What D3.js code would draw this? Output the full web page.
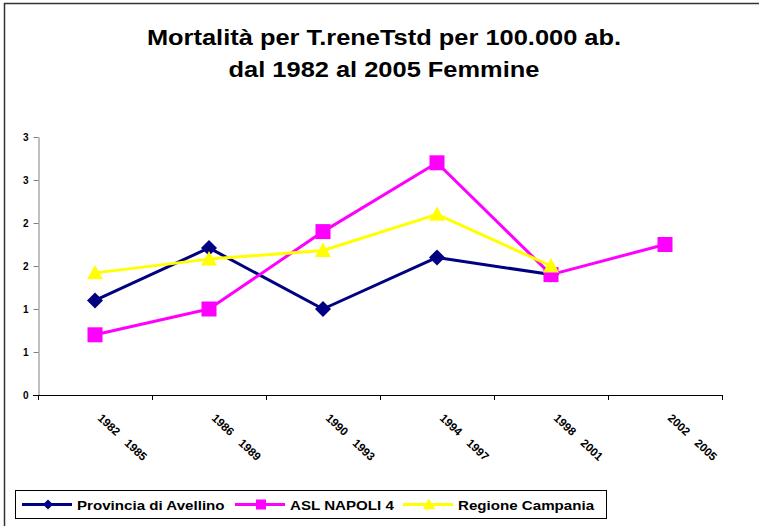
<!DOCTYPE html>
<html>
<head>
<meta charset="utf-8">
<script src="https://cdn.jsdelivr.net/npm/d3@7"></script>
<style>
  body { margin: 0; background: #fff; }
  text { font-family: "Liberation Sans", Arial, sans-serif; font-weight: bold; fill: #000; }
</style>
</head>
<body>
<svg id="chart"></svg>
<script>
// Data
const periods = [["1982", "1985"], ["1986", "1989"], ["1990", "1993"], ["1994", "1997"], ["1998", "2001"], ["2002", "2005"]];
const avellino = [1.1, 1.71, 1.0, 1.6, 1.4, null];
const aslNapoli4 = [0.7, 1.0, 1.9, 2.7, 1.4, 1.75];
const campania = [1.42, 1.58, 1.68, 2.1, 1.5, null];
const yTicks = [0, 0.5, 1, 1.5, 2, 2.5, 3];
const titleLines = ["Mortalità per T.reneTstd per 100.000 ab.", "dal 1982 al 2005 Femmine"];

const series = [
    { name: "Provincia di Avellino", values: avellino, color: "#000080", shape: "diamond" },
    { name: "ASL NAPOLI 4", values: aslNapoli4, color: "#ff00ff", shape: "square" },
    { name: "Regione Campania", values: campania, color: "#ffff00", shape: "triangle" },
];

const W = 759, H = 526;
const svg = d3.select("#chart").attr("width", W).attr("height", H);
svg.append("rect").attr("width", W).attr("height", H).attr("fill", "#fff");

// outer chart frame (runs off the right / bottom of the picture)
svg.append("rect")
    .attr("x", 4.5).attr("y", 3.5).attr("width", 800).attr("height", 600)
    .attr("fill", "none").attr("stroke", "#333").attr("stroke-width", 1.5);

// Title (the source picture is stretched a little horizontally)
titleLines.forEach((t, i) => {
    svg.append("text")
        .attr("transform", `translate(384,${45 + i * 32}) scale(1.13,1)`)
        .attr("text-anchor", "middle")
        .style("font-size", "22.5px")
        .text(t);
});

const x = d3.scaleBand().domain(d3.range(periods.length)).range([38, 722]);
const y = d3.scaleLinear().domain([0, 3]).range([395, 137]);

// Y axis
const yAxis = svg.append("g").attr("transform", "translate(38.5,0)")
    .call(d3.axisLeft(y).tickValues(yTicks).tickSize(5).tickSizeOuter(0)
        .tickFormat(d => Math.round(d)));
yAxis.select(".domain").attr("stroke", "#808080");
yAxis.selectAll(".tick line").attr("stroke", "#808080");
yAxis.selectAll(".tick text").attr("x", -10).style("font-size", "10px")
    .style("font-family", "'Liberation Sans', Arial, sans-serif").style("font-weight", "bold");

// X axis: ticks on the category boundaries
const xb = svg.append("g");
xb.append("line").attr("x1", 33).attr("x2", 722).attr("y1", 395.5).attr("y2", 395.5)
    .attr("stroke", "#000").attr("stroke-width", 1);
const bounds = periods.map((p, i) => x(i)).concat([x.range()[1]]);
xb.selectAll("line.tk").data(bounds).join("line").attr("class", "tk")
    .attr("x1", d => d + 0.5).attr("x2", d => d + 0.5)
    .attr("y1", 395).attr("y2", 400).attr("stroke", "#000");

// rotated period labels
const xl = svg.append("g").selectAll("text").data(periods).join("text")
    .attr("transform", (d, i) => `translate(${x(i) + x.bandwidth() / 2 + 2},419) rotate(43)`)
    .style("font-size", "11.5px");
xl.append("tspan").text(d => d[0]);
xl.append("tspan").attr("dx", 11).text(d => d[1]);

// markers
function marker(sel, shape, s) {
    let p;
    if (shape === "diamond") p = `M0,${-s}L${s},0L0,${s}L${-s},0Z`;
    else if (shape === "square") p = `M${-s},${-s}H${s}V${s}H${-s}Z`;
    else p = `M0,${-s}L${s},${s * 0.8}L${-s},${s * 0.8}Z`;
    return sel.append("path").attr("d", p);
}

const line = d3.line()
    .defined(d => d != null)
    .x((d, i) => x(i) + x.bandwidth() / 2)
    .y(d => y(d));

series.forEach(s => {
    svg.append("path").datum(s.values)
        .attr("d", line)
        .attr("fill", "none").attr("stroke", s.color).attr("stroke-width", 3)
        .attr("stroke-linejoin", "round");
});
series.forEach(s => {
    s.values.forEach((v, i) => {
        if (v == null) return;
        const g = svg.append("g").attr("transform", `translate(${x(i) + x.bandwidth() / 2},${y(v)})`);
        marker(g, s.shape, s.shape === "square" ? 7.5 : 8).attr("fill", s.color);
    });
});

// Legend
svg.append("rect").attr("x", 15.5).attr("y", 490.5).attr("width", 591).attr("height", 28)
    .attr("fill", "#fff").attr("stroke", "#000").attr("stroke-width", 1);
const legendX = [22, 235, 403];
series.forEach((s, i) => {
    const g = svg.append("g").attr("transform", `translate(${legendX[i]},504.5)`);
    g.append("line").attr("x1", 0).attr("x2", 50).attr("stroke", s.color).attr("stroke-width", 3);
    const m = g.append("g").attr("transform", "translate(26,0)");
    marker(m, s.shape, s.shape === "triangle" ? 6 : 5).attr("fill", s.color);
    g.append("text").attr("transform", "translate(55,5) scale(1.12,1)")
        .style("font-size", "13.5px").text(s.name);
});
</script>
</body>
</html>
